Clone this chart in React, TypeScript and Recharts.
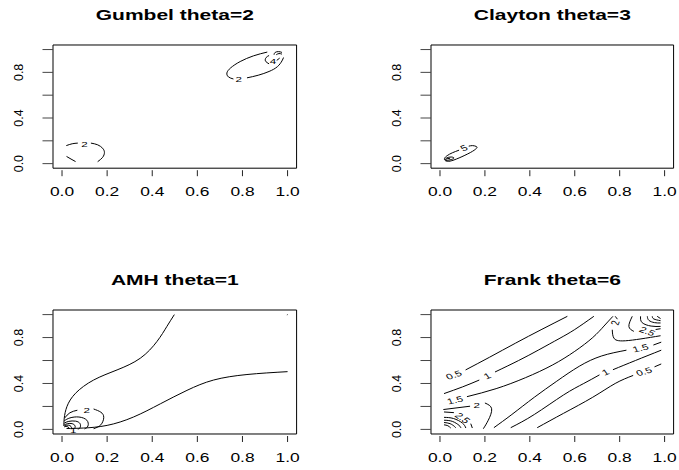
import React from 'react';
import { ComposedChart, Line, Scatter, XAxis, YAxis, ReferenceArea } from 'recharts';

type P = [number, number];
type Lab = { x: number; y: number; text: string; angle: number };

const titles = ['Gumbel theta=2', 'Clayton theta=3', 'AMH theta=1', 'Frank theta=6'];
const xTicks = [0, 0.2, 0.4, 0.6, 0.8, 1];
const yTicks = [0, 0.2, 0.4, 0.6, 0.8, 1];
const yLabelled = [0, 0.4, 0.8];

// contour pieces (gaps are where R put the labels)
const gumbelLines: P[][] = [
  [[0.019, 0.158], [0.045, 0.174], [0.07, 0.18]],
  [[0.128, 0.18], [0.158, 0.165], [0.18, 0.135], [0.188, 0.098], [0.18, 0.055], [0.158, 0.017]],
  [[0.02, 0.063], [0.04, 0.04], [0.06, 0.018]],
  [[0.76, 0.742], [0.738, 0.76], [0.731, 0.795], [0.748, 0.84], [0.79, 0.895], [0.849, 0.945], [0.91, 0.978]],
  [[0.82, 0.752], [0.87, 0.775], [0.918, 0.808], [0.955, 0.85], [0.975, 0.9], [0.982, 0.93]],
  [[0.918, 0.875], [0.902, 0.9], [0.905, 0.93], [0.918, 0.948]],
  [[0.952, 0.905], [0.965, 0.925]],
  [[0.94, 0.955], [0.945, 0.975], [0.96, 0.982], [0.975, 0.975]],
  [[0.95, 0.955], [0.962, 0.965], [0.975, 0.96]],
];
const gumbelLabels: Lab[] = [
  { x: 0.099, y: 0.17, text: '2', angle: 0 },
  { x: 0.783, y: 0.74, text: '2', angle: 0 },
  { x: 0.935, y: 0.9, text: '4', angle: 0 },
];

const claytonLines: P[][] = [
  [[0.085, 0.118], [0.055, 0.095], [0.032, 0.07], [0.02, 0.045], [0.025, 0.025], [0.045, 0.022], [0.085, 0.05], [0.135, 0.097], [0.162, 0.133], [0.162, 0.15], [0.145, 0.158], [0.128, 0.153]],
  [[0.022, 0.032], [0.03, 0.05], [0.05, 0.058], [0.062, 0.048], [0.045, 0.033], [0.026, 0.028]],
  [[0.025, 0.035], [0.035, 0.045], [0.045, 0.042]],
];
const claytonLabels: Lab[] = [{ x: 0.107, y: 0.137, text: '5', angle: 20 }];

const amhLines: P[][] = [
  [[0.008, 0.03], [0.01, 0.1], [0.022, 0.2], [0.06, 0.315], [0.14, 0.43], [0.244, 0.518], [0.347, 0.62], [0.421, 0.766], [0.465, 0.897], [0.498, 1.0]],
  [[0.02, 0.008], [0.096, 0.012], [0.2, 0.035], [0.317, 0.108], [0.436, 0.223], [0.554, 0.34], [0.672, 0.43], [0.82, 0.478], [1.0, 0.503]],
  [[0.012, 0.1], [0.035, 0.145], [0.068, 0.167]],
  [[0.14, 0.178], [0.172, 0.15], [0.185, 0.105], [0.172, 0.04], [0.14, 0.006]],
  [[0.01, 0.075], [0.035, 0.1], [0.075, 0.108], [0.11, 0.08], [0.115, 0.03], [0.1, 0.004]],
  [[0.01, 0.055], [0.03, 0.07], [0.06, 0.072], [0.08, 0.05], [0.08, 0.015], [0.07, 0.003]],
  [[0.01, 0.04], [0.025, 0.05], [0.045, 0.05], [0.058, 0.03], [0.055, 0.005]],
  [[0.01, 0.03], [0.02, 0.036], [0.035, 0.034], [0.042, 0.015], [0.04, 0.003]],
  [[0.01, 0.022], [0.018, 0.026], [0.028, 0.02], [0.03, 0.005]],
  [[0.997, 0.997], [1.0, 1.0]],
];
const amhLabels: Lab[] = [
  { x: 0.11, y: 0.167, text: '2', angle: 0 },
  { x: 0.05, y: -0.01, text: '1', angle: 0 },
];

const frankLines: P[][] = [
  [[0.114, 0.518], [0.22, 0.628], [0.337, 0.752], [0.45, 0.868], [0.567, 0.985]],
  [[0.018, 0.312], [0.1, 0.37], [0.175, 0.43]],
  [[0.245, 0.5], [0.35, 0.6], [0.44, 0.693], [0.53, 0.79], [0.6, 0.87], [0.685, 0.985]],
  [[0.12, 0.285], [0.25, 0.355], [0.38, 0.45], [0.5, 0.56], [0.6, 0.68], [0.68, 0.8], [0.73, 0.9], [0.77, 0.985]],
  [[0.015, 0.173], [0.134, 0.202]],
  [[0.2, 0.23], [0.23, 0.18], [0.215, 0.08], [0.193, 0.006]],
  [[0.018, 0.152], [0.062, 0.146]],
  [[0.137, 0.05], [0.144, 0.012]],
  [[0.018, 0.105], [0.06, 0.095], [0.1, 0.055], [0.115, 0.012]],
  [[0.018, 0.08], [0.055, 0.07], [0.085, 0.035], [0.093, 0.012]],
  [[0.018, 0.06], [0.045, 0.05], [0.065, 0.025], [0.07, 0.012]],
  [[0.018, 0.04], [0.035, 0.032], [0.048, 0.012]],
  [[0.433, 0.015], [0.55, 0.14], [0.68, 0.28], [0.78, 0.4], [0.86, 0.47]],
  [[0.955, 0.545], [0.985, 0.57]],
  [[0.315, 0.015], [0.42, 0.13], [0.55, 0.3], [0.64, 0.4], [0.71, 0.475]],
  [[0.77, 0.52], [0.87, 0.6], [0.985, 0.69]],
  [[0.24, 0.015], [0.32, 0.13], [0.42, 0.28], [0.52, 0.42], [0.62, 0.55], [0.72, 0.64], [0.83, 0.69]],
  [[0.95, 0.735], [0.985, 0.76]],
  [[0.78, 0.985], [0.79, 0.96]],
  [[0.767, 0.868], [0.774, 0.796], [0.826, 0.772], [0.982, 0.816]],
  [[0.856, 0.985], [0.841, 0.897], [0.863, 0.854]],
  [[0.96, 0.87], [0.982, 0.877]],
  [[0.893, 0.985], [0.9, 0.93], [0.94, 0.9], [0.982, 0.897]],
  [[0.923, 0.985], [0.93, 0.95], [0.955, 0.93], [0.982, 0.927]],
  [[0.945, 0.985], [0.952, 0.962], [0.982, 0.947]],
  [[0.967, 0.985], [0.982, 0.965]],
];
const frankLabels: Lab[] = [
  { x: 0.062, y: 0.474, text: '0.5', angle: 18 },
  { x: 0.21, y: 0.466, text: '1', angle: 20 },
  { x: 0.067, y: 0.254, text: '1.5', angle: 12 },
  { x: 0.163, y: 0.21, text: '2', angle: 0 },
  { x: 0.1, y: 0.1, text: '2.5', angle: -35 },
  { x: 0.737, y: 0.497, text: '1', angle: 20 },
  { x: 0.908, y: 0.503, text: '0.5', angle: 15 },
  { x: 0.893, y: 0.708, text: '1.5', angle: 12 },
  { x: 0.78, y: 0.927, text: '2', angle: 70 },
  { x: 0.923, y: 0.854, text: '2.5', angle: -20 },
];

const panels = [
  { title: titles[0], lines: gumbelLines, labels: gumbelLabels, box: { left: 52.7, right: 296.3, top: 45.3, bottom: 168.5 } },
  { title: titles[1], lines: claytonLines, labels: claytonLabels, box: { left: 430.7, right: 673.3, top: 45.3, bottom: 168.5 } },
  { title: titles[2], lines: amhLines, labels: amhLabels, box: { left: 52.7, right: 296.3, top: 310, bottom: 434 } },
  { title: titles[3], lines: frankLines, labels: frankLabels, box: { left: 430.7, right: 673.3, top: 310, bottom: 434 } },
];

const S = 1.45; // R's text comes out wider than tall here
const FONT = '"Liberation Sans", Arial, Helvetica, sans-serif';

const XTick = (props: any) => {
  const { x, y, payload } = props;
  return (
    <g>
      <line x1={x} x2={x} y1={y + 2} y2={y + 8} stroke="#222" />
      <text transform={`translate(${x},${y + 28}) scale(${S},1)`} textAnchor="middle" fontSize={12} fontFamily={FONT} fill="#000">
        {Number(payload.value).toFixed(1)}
      </text>
    </g>
  );
};

const YTick = (props: any) => {
  const { x, y, payload } = props;
  const v = Number(payload.value);
  return (
    <g>
      <line x1={x - 10.5} x2={x} y1={y} y2={y} stroke="#444" />
      {yLabelled.includes(v) && (
        <text transform={`translate(${x - 30},${y}) rotate(-90)`} textAnchor="middle" fontSize={12.5} fontFamily={FONT} fill="#000">
          {v.toFixed(1)}
        </text>
      )}
    </g>
  );
};

const ContourLabel = (props: any) => {
  const { cx, cy, payload } = props;
  if (cx == null || cy == null) return <g />;
  const a = (Math.atan(S * Math.tan((payload.angle * Math.PI) / 180)) * 180) / Math.PI;
  return (
    <g transform={`translate(${cx},${cy}) scale(${S},1) rotate(${-a})`}>
      <text textAnchor="middle" dy="0.35em" fontSize={8} fontFamily={FONT} fill="#000">
        {payload.text}
      </text>
    </g>
  );
};

const Panel = ({ title, lines, labels, box }: any) => {
  const padL = 50;
  const padT = 45;
  const padR = 5;
  const padB = 42;
  const w = box.right - box.left + padL + padR;
  const h = box.bottom - box.top + padT + padB;
  return (
    <div style={{ position: 'absolute', left: box.left - padL, top: box.top - padT }}>
      <ComposedChart width={w} height={h} margin={{ top: padT, right: padR, bottom: padB - 30, left: padL - 40 }}>
        <XAxis type="number" dataKey="x" domain={[-0.04, 1.04]} ticks={xTicks} interval={0} allowDataOverflow
          axisLine={false} tickLine={false} tickSize={0} tickMargin={0} height={30} tick={<XTick />} />
        <YAxis type="number" dataKey="y" domain={[-0.04, 1.04]} ticks={yTicks} interval={0} allowDataOverflow
          axisLine={false} tickLine={false} tickSize={0} tickMargin={0} width={40} tick={<YTick />} />
        <ReferenceArea x1={-0.04} x2={1.04} y1={-0.04} y2={1.04} fill="none" stroke="#000" strokeWidth={1} ifOverflow="visible" />
        {lines.map((seg: P[], i: number) => (
          <Line key={i} data={seg.map(([x, y]) => ({ x, y }))} dataKey="y" type="natural" stroke="#000"
            strokeWidth={1} dot={false} activeDot={false} isAnimationActive={false} />
        ))}
        <Scatter data={labels} dataKey="y" shape={<ContourLabel />} isAnimationActive={false} />
      </ComposedChart>
      <svg width={w} height={padT} style={{ position: 'absolute', left: 0, top: 0 }}>
        <text transform={`translate(${padL + (box.right - box.left) / 2},${padT - 24.6}) scale(${S},1)`} textAnchor="middle"
          fontSize={14.5} fontWeight="bold" fontFamily={FONT} fill="#000">
          {title}
        </text>
      </svg>
    </div>
  );
};

export default function App() {
  return (
    <div style={{ position: 'absolute', left: 0, top: 0, width: 679, height: 470, background: '#fff', overflow: 'hidden' }}>
      {panels.map((p) => (
        <Panel key={p.title} {...p} />
      ))}
    </div>
  );
}
